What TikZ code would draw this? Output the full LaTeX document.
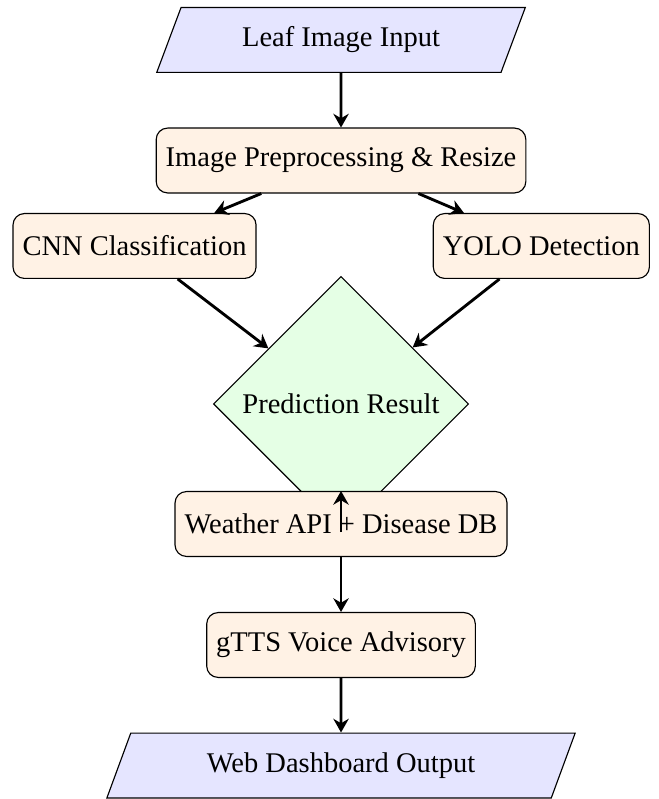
\documentclass[tikz,border=0pt]{standalone}
\usepackage{fontspec}
\setmainfont{Liberation Serif}
\usetikzlibrary{shapes.geometric,arrows.meta}

\begin{document}
\begin{tikzpicture}[
  io/.style={trapezium, trapezium left angle=70, trapezium right angle=110,
    trapezium stretches=true, draw, fill=blue!10, minimum width=4.55cm, minimum height=0.8cm},
  proc/.style={rectangle, rounded corners, draw, fill=orange!10, minimum height=0.8cm},
  decide/.style={diamond, draw, fill=green!10},
  arr/.style={line width=1pt, -{Stealth[length=4.8pt,width=5.4pt]}}]
\useasboundingbox (-4.205,0) rectangle (3.909,-9.852);
\node [io] (input) at (0,-0.493) {Leaf Image Input};
\node [proc] (prep) at (0,-1.979) {Image Preprocessing \& Resize};
\node [proc] (cnn) at (-2.546,-3.033) {CNN Classification};
\node [proc] (yolo) at (2.47,-3.033) {YOLO Detection};
\node [decide] (pred) at (0,-4.981) {Prediction Result};
\node [proc] (weather) at (0,-6.461) {Weather API + Disease DB};
\node [proc] (gtts) at (0,-7.953) {gTTS Voice Advisory};
\node [io, minimum width=5.78cm] (output) at (0,-9.439) {Web Dashboard Output};
\draw [arr] (input) -- (prep);
\draw [arr] (prep) -- (cnn);
\draw [arr] (prep) -- (yolo);
\draw [arr] (cnn) -- (pred);
\draw [arr] (yolo) -- (pred);
\draw [arr] (pred) -- (weather);
\draw [arr] (weather) -- (gtts);
\draw [arr] (gtts) -- (output);
\end{tikzpicture}
\end{document}
